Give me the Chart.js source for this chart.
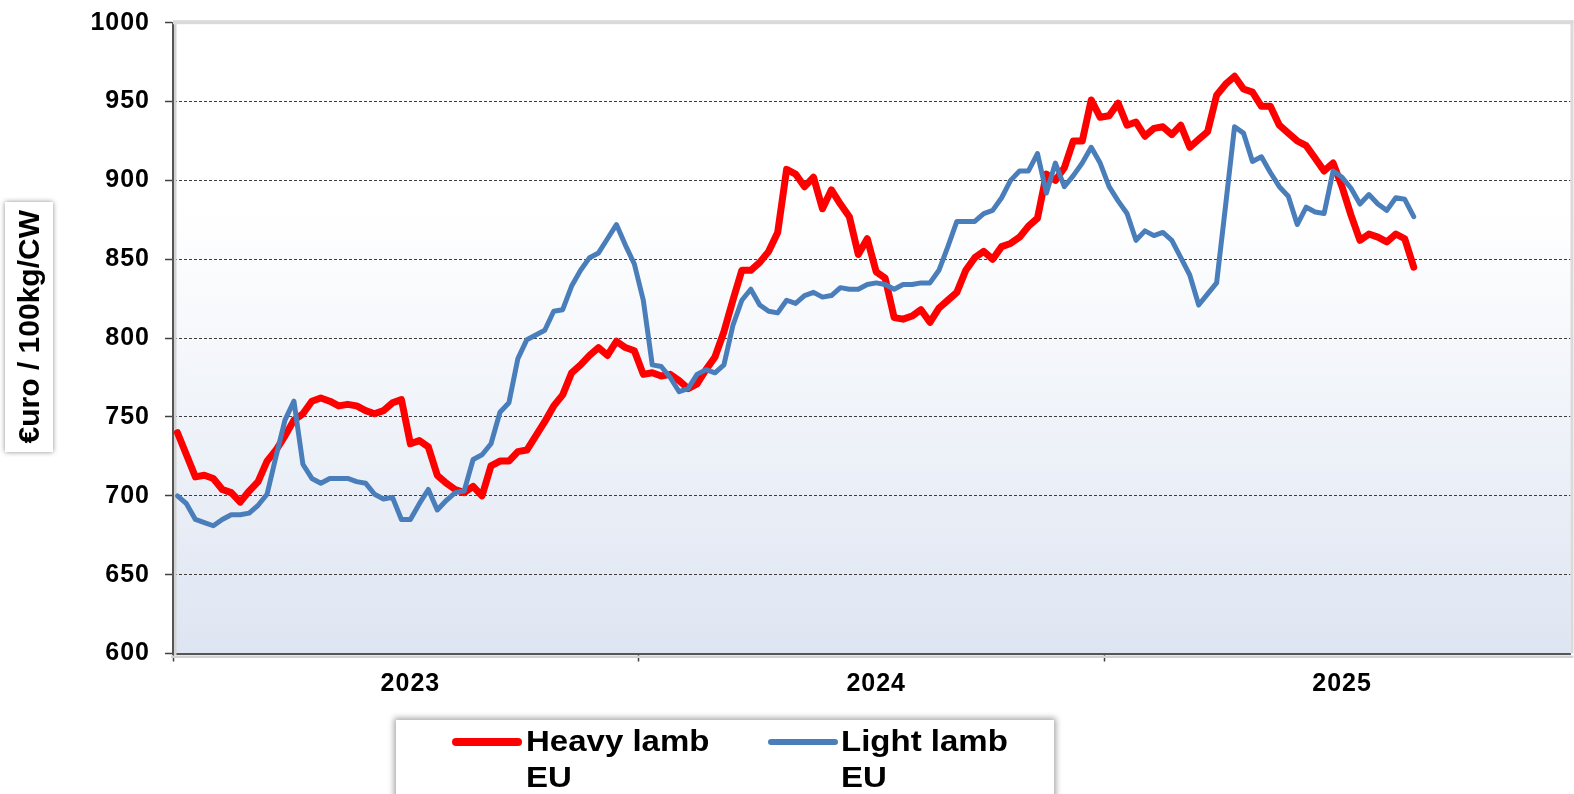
<!DOCTYPE html>
<html>
<head>
<meta charset="utf-8">
<script src="https://cdn.jsdelivr.net/npm/chart.js@4.4.1/dist/chart.umd.min.js"></script>
<style>
	body { margin: 0; overflow: hidden; background: #fff; }
	#wrap { position: relative; width: 1574px; height: 794px; font-family: "Liberation Sans", Arial, sans-serif; }
	#chart { position: absolute; left: 0; top: 0; }
	#ytitleBox {
		position: absolute; left: 5px; top: 202px; width: 48px; height: 250px;
		background: #fff; box-shadow: 0 0 5px rgba(0, 0, 0, 0.45);
		display: flex; align-items: center; justify-content: center;
	}
	#ytitle {
		writing-mode: vertical-rl; transform: rotate(180deg);
		font-weight: bold; font-size: 30px; color: #000; white-space: nowrap;
	}
	#legendBox {
		position: absolute; left: 396px; top: 720px; width: 658px; height: 100px;
		background: #fff; box-shadow: 0 0 6px 2px rgba(0, 0, 0, 0.35);
	}
	.swatch { position: absolute; height: 8px; border-radius: 4px; }
	.legendText {
		position: absolute; font-weight: bold; font-size: 30px; line-height: 36px;
		color: #000; transform: scaleX(1.1); transform-origin: left top; white-space: nowrap;
	}
</style>
</head>
<body>
<div id="wrap">
	<canvas id="chart" width="1574" height="794"></canvas>
	<div id="ytitleBox"><div id="ytitle">€uro / 100kg/CW</div></div>
	<div id="legendBox"></div>
	<div class="swatch" style="left:452px;top:738px;width:70px;background:#ff0000"></div>
	<div class="legendText" style="left:526px;top:723px">Heavy lamb<br>EU</div>
	<div class="swatch" style="left:768px;top:739px;width:70px;height:6px;background:#4a7ebb"></div>
	<div class="legendText" style="left:841px;top:723px">Light lamb<br>EU</div>
</div>
<script>
const yearLabels = ["2023", "2024", "2025"];
const weeksPerYear = 52;

// weekly prices, EUR / 100kg carcass weight
const heavyLamb = [
	740, 726, 712, 713, 711, 704, 702, 696, 703, 709,
	722, 729, 738, 748, 752, 760, 762, 760, 757, 758,
	757, 754, 752, 754, 759, 761, 733, 735, 731, 713,
	708, 704, 702, 706, 700, 719, 722, 722, 728, 729,
	738, 747, 757, 764, 778, 783, 789, 794, 789, 798,
	794, 792, 777, 778, 776, 777, 773, 768, 771, 780,
	788, 804, 824, 843, 843, 848, 855, 867, 907, 904,
	896, 902, 882, 894, 885, 877, 853, 863, 842, 838,
	813, 812, 814, 818, 810, 819, 824, 829, 843, 851,
	855, 850, 858, 860, 864, 871, 876, 904, 900, 908,
	925, 925, 951, 940, 941, 949, 935, 937, 928, 933,
	934, 929, 935, 921, 926, 931, 954, 961, 966, 958,
	956, 947, 947, 935, 930, 925, 922, 914, 906, 911,
	896, 878, 862, 866, 864, 861, 866, 863, 845
];

const lightLamb = [
	700, 695, 685, 683, 681, 685, 688, 688, 689, 694,
	701, 725, 748, 760, 720, 711, 708, 711, 711, 711,
	709, 708, 701, 698, 699, 685, 685, 695, 704, 691,
	697, 702, 703, 723, 726, 733, 753, 759, 787, 799,
	802, 805, 817, 818, 833, 843, 851, 854, 863, 872,
	859, 847, 824, 783, 782, 775, 766, 768, 777, 780,
	778, 783, 808, 824, 831, 821, 817, 816, 824, 822,
	827, 829, 826, 827, 832, 831, 831, 834, 835, 834,
	831, 834, 834, 835, 835, 843, 858, 874, 874, 874,
	879, 881, 889, 900, 906, 906, 917, 892, 911, 896,
	903, 911, 921, 911, 896, 887, 879, 862, 868, 865,
	867, 862, 851, 840, 821, 828, 835, 884, 934, 930,
	912, 915, 905, 896, 890, 872, 883, 880, 879, 906,
	902, 895, 885, 891, 885, 881, 889, 888, 877
];

const weekLabels = [];
yearLabels.forEach(year => {
	for (let w = 1; w <= weeksPerYear; w++) {
		weekLabels.push(`${year}-W${w}`);
	}
});

const fontFamily = '"Liberation Sans", Arial, sans-serif';

const plotDecor = {
	id: 'plotDecor',
	beforeLayout(chart) {
		chart.ctx.letterSpacing = '1px';
	},
	beforeDraw(chart) {
		const { ctx, chartArea: a } = chart;
		ctx.letterSpacing = '1px';
		const grad = ctx.createLinearGradient(0, a.top, 0, a.bottom);
		grad.addColorStop(0, '#ffffff');
		grad.addColorStop(0.3, '#ffffff');
		grad.addColorStop(1, '#dee5f2');
		ctx.save();
		ctx.fillStyle = grad;
		ctx.fillRect(a.left, a.top, a.right - a.left, a.bottom - a.top);
		ctx.restore();
	},
	beforeDatasetsDraw(chart) {
		const { ctx, chartArea: a } = chart;
		ctx.save();
		ctx.fillStyle = '#dadada';
		ctx.fillRect(a.left, a.top - 2.5, a.right - a.left + 3, 4);
		ctx.fillRect(a.right, a.top - 2.5, 3, a.bottom - a.top + 2.5);
		ctx.fillStyle = '#d2d2d2';
		ctx.fillRect(a.left - 2, a.bottom + 2, a.right - a.left + 5, 2.5);
		ctx.fillRect(a.left + 1, a.top + 1.5, 2.5, a.bottom - a.top);
		ctx.restore();
	}
};

const lambChart = new Chart(document.getElementById('chart'), {
	type: 'line',
	data: {
		labels: weekLabels,
		datasets: [{
			label: 'Heavy lamb EU',
			data: heavyLamb,
			borderColor: '#ff0000',
			borderWidth: 7,
			order: 1
		}, {
			label: 'Light lamb EU',
			data: lightLamb,
			borderColor: '#4a7ebb',
			borderWidth: 5,
			order: 0
		}]
	},
	options: {
		responsive: false,
		animation: false,
		devicePixelRatio: 1,
		layout: { padding: { top: 22.7, right: 2.5, left: 0, bottom: 0 } },
		elements: {
			point: { radius: 0 },
			line: { tension: 0, borderJoinStyle: 'round', borderCapStyle: 'round' }
		},
		plugins: {
			legend: { display: false },
			tooltip: { enabled: false }
		},
		scales: {
			x: {
				type: 'category',
				offset: true,
				afterFit: scale => { scale.height = 140.5; },
				grid: {
					offset: true,
					drawOnChartArea: false,
					tickLength: 8,
					tickWidth: 1.5,
					tickColor: ctx => (ctx.index % weeksPerYear === 0) ? '#404040' : 'rgba(0,0,0,0)'
				},
				border: { color: '#555555', width: 2 },
				ticks: {
					autoSkip: false,
					maxRotation: 0,
					minRotation: 0,
					padding: 8,
					color: '#000',
					font: { family: fontFamily, size: 25, weight: 'bold' },
					callback: (value, index) => index % weeksPerYear === weeksPerYear / 2 ? yearLabels[Math.floor(index / weeksPerYear)] : ''
				}
			},
			y: {
				min: 600,
				max: 1000,
				afterFit: scale => {
					scale.width = 173;
					scale.paddingTop = 0;
					scale.paddingBottom = 0;
				},
				grid: {
					color: ctx => (ctx.tick && ctx.tick.value > 600 && ctx.tick.value < 1000) ? '#3c3c3c' : 'rgba(0,0,0,0)',
					lineWidth: 1,
					tickLength: 8,
					tickWidth: 1.5,
					tickColor: '#404040',
					tickBorderDash: []
				},
				border: { color: '#555555', width: 2, dash: [3, 2] },
				ticks: {
					stepSize: 50,
					padding: 15,
					color: '#000',
					font: { family: fontFamily, size: 25, weight: 'bold' },
					callback: value => String(value)
				}
			}
		}
	},
	plugins: [plotDecor]
});
</script>
</body>
</html>
